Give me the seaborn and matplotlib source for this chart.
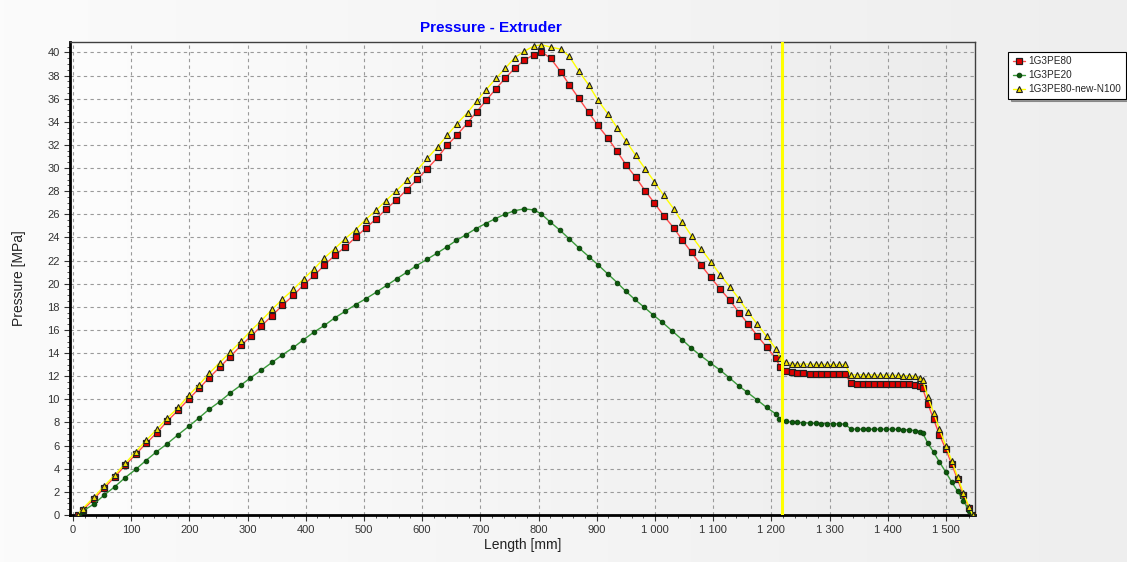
import numpy as np
import pandas as pd
import matplotlib
matplotlib.use("Agg")
import matplotlib.pyplot as plt
import seaborn as sns
from matplotlib.ticker import MultipleLocator, FuncFormatter
from matplotlib.colors import LinearSegmentedColormap

# ---------------- data ----------------
x_red = [8, 17, 36, 53, 72, 90, 108, 126, 144, 162, 181, 199, 217, 234, 252, 270, 289, 306, 324, 342,
         360, 379, 397, 415, 432, 450, 468, 486, 503, 521, 538, 556, 574, 592, 609, 627, 643, 660, 678, 694,
         710, 727, 743, 759, 775, 792, 805, 821, 838, 853, 869, 886, 902, 919, 935, 950, 967, 983, 999, 1015,
         1032, 1047, 1063, 1079, 1096, 1112, 1129, 1145, 1160, 1176, 1192, 1208, 1215, 1225, 1235, 1245, 1255, 1266, 1276, 1286,
         1296, 1306, 1316, 1326, 1337, 1347, 1357, 1367, 1377, 1387, 1397, 1407, 1417, 1427, 1437, 1447, 1455, 1460, 1469, 1479,
         1489, 1500, 1510, 1520, 1530, 1540, 1546]
y_red = [0.0, 0.43, 1.38, 2.3, 3.3, 4.3, 5.25, 6.2, 7.1, 8.1, 9.07, 10.02, 10.95, 11.86, 12.76, 13.68, 14.66, 15.46, 16.36, 17.22,
         18.14, 19.0, 19.93, 20.73, 21.6, 22.46, 23.18, 24.02, 24.8, 25.6, 26.44, 27.24, 28.14, 29.03, 29.95, 30.93, 31.97, 32.86, 33.9, 34.88,
         35.85, 36.86, 37.78, 38.62, 39.31, 39.8, 40.06, 39.48, 38.33, 37.2, 36.05, 34.82, 33.68, 32.6, 31.45, 30.3, 29.2, 28.05, 26.98, 25.89,
         24.85, 23.78, 22.7, 21.62, 20.54, 19.55, 18.55, 17.48, 16.53, 15.5, 14.52, 13.54, 12.8, 12.44, 12.33, 12.3, 12.27, 12.22, 12.2, 12.2,
         12.2, 12.2, 12.2, 12.2, 11.38, 11.34, 11.34, 11.34, 11.34, 11.34, 11.34, 11.33, 11.33, 11.31, 11.29, 11.26, 11.17, 10.95, 9.62, 8.27,
         6.92, 5.68, 4.4, 3.08, 1.73, 0.58, 0.0]

x_yel = x_red
y_yel = [0.0, 0.56, 1.53, 2.47, 3.46, 4.47, 5.47, 6.46, 7.4, 8.37, 9.3, 10.34, 11.28, 12.24, 13.16, 14.08, 15.03, 15.95, 16.82, 17.77,
         18.66, 19.52, 20.45, 21.31, 22.23, 23.04, 23.9, 24.68, 25.55, 26.35, 27.19, 28.05, 28.94, 29.86, 30.84, 31.85, 32.83, 33.84, 34.79, 35.8,
         36.78, 37.75, 38.64, 39.54, 40.09, 40.55, 40.66, 40.46, 40.28, 39.65, 38.41, 37.2, 35.88, 34.7, 33.49, 32.37, 31.1, 29.95, 28.83, 27.65,
         26.5, 25.31, 24.13, 23.04, 21.9, 20.78, 19.72, 18.65, 17.54, 16.5, 15.44, 14.35, 13.6, 13.22, 13.1, 13.05, 13.05, 13.05, 13.03, 13.03,
         13.03, 13.02, 13.02, 13.02, 12.12, 12.12, 12.12, 12.12, 12.1, 12.1, 12.1, 12.08, 12.08, 12.05, 12.05, 11.98, 11.86, 11.66, 10.2, 8.84,
         7.4, 5.96, 4.69, 3.3, 1.93, 0.66, 0.0]

x_grn = [10, 18, 36, 54, 72, 89, 108, 125, 143, 162, 180, 199, 217, 234, 252, 270, 288, 305, 324, 342,
         360, 379, 396, 414, 432, 450, 468, 486, 503, 522, 539, 557, 574, 590, 608, 626, 643, 659, 676, 692,
         709, 726, 742, 758, 775, 792, 804, 820, 837, 853, 870, 887, 903, 919, 935, 950, 965, 982, 997, 1013,
         1030, 1047, 1062, 1078, 1095, 1112, 1128, 1144, 1159, 1176, 1192, 1208, 1214, 1225, 1235, 1245, 1255, 1266, 1276, 1286,
         1296, 1306, 1316, 1326, 1337, 1347, 1357, 1367, 1377, 1387, 1397, 1407, 1417, 1427, 1437, 1447, 1455, 1460, 1469, 1479,
         1489, 1500, 1510, 1520, 1530, 1540, 1546]
y_grn = [0.0, 0.37, 0.95, 1.73, 2.45, 3.2, 3.95, 4.69, 5.44, 6.16, 6.91, 7.66, 8.41, 9.14, 9.79, 10.54, 11.2, 11.86, 12.53, 13.19,
         13.85, 14.49, 15.15, 15.81, 16.39, 17.05, 17.62, 18.2, 18.69, 19.29, 19.85, 20.45, 21.0, 21.55, 22.1, 22.65, 23.2, 23.75, 24.25, 24.75,
         25.2, 25.63, 26.0, 26.3, 26.47, 26.38, 26.06, 25.34, 24.62, 23.87, 23.07, 22.32, 21.6, 20.85, 20.1, 19.35, 18.66, 17.95, 17.3, 16.65,
         15.9, 15.15, 14.46, 13.8, 13.16, 12.53, 11.86, 11.17, 10.6, 9.94, 9.3, 8.73, 8.33, 8.1, 8.03, 8.0, 7.98, 7.95, 7.92, 7.9,
         7.9, 7.88, 7.87, 7.86, 7.43, 7.42, 7.42, 7.42, 7.42, 7.42, 7.42, 7.42, 7.4, 7.38, 7.35, 7.3, 7.22, 7.1, 6.2, 5.42,
         4.58, 3.69, 2.85, 2.07, 1.24, 0.35, 0.0]

series_names = ["1G3PE80", "1G3PE20", "1G3PE80-new-N100"]
cursor_x = 1218

title = "Pressure - Extruder"
xlabel = "Length [mm]"
ylabel = "Pressure [MPa]"

# ---------------- figure ----------------
sns.set_theme(style="white")
plt.rcParams["font.family"] = ["Liberation Sans", "DejaVu Sans"]

fig = plt.figure(figsize=(11.27, 5.62), dpi=100)

# background gradient for the whole figure
bg = fig.add_axes([0, 0, 1, 1], zorder=-10)
bg.imshow(np.linspace(0, 1, 256)[None, :], aspect="auto", extent=[0, 1, 0, 1],
          cmap=LinearSegmentedColormap.from_list("bgf", ["#fbfbfb", "#eeeeee"]))
bg.set_axis_off()

ax = fig.add_axes([70 / 1127, 1 - 515 / 562, (975 - 70) / 1127, (515 - 42) / 562])
ax.set_facecolor("none")
ax.imshow(np.linspace(0, 1, 256)[None, :], aspect="auto", extent=[0, 1, 0, 1],
          transform=ax.transAxes, zorder=0,
          cmap=LinearSegmentedColormap.from_list("bga", ["#fdfdfd", "#ececec"]))

df_red = pd.DataFrame({"x": x_red, "y": y_red})
df_grn = pd.DataFrame({"x": x_grn, "y": y_grn})
df_yel = pd.DataFrame({"x": x_yel, "y": y_yel})

sns.lineplot(data=df_red, x="x", y="y", ax=ax, sort=False, estimator=None,
             color="#ff4a4a", linewidth=1.0, marker="s", markersize=5,
             markerfacecolor="#e00000", markeredgecolor="#202020", markeredgewidth=0.9,
             label=series_names[0], zorder=3)
sns.lineplot(data=df_grn, x="x", y="y", ax=ax, sort=False, estimator=None,
             color="#3a9a3a", linewidth=1.0, marker="o", markersize=3.4,
             markerfacecolor="#0a5a0a", markeredgecolor="#0a3a0a", markeredgewidth=0.6,
             label=series_names[1], zorder=3)
sns.lineplot(data=df_yel, x="x", y="y", ax=ax, sort=False, estimator=None,
             color="#ffff00", linewidth=1.0, marker="^", markersize=5,
             markerfacecolor="#f0e000", markeredgecolor="#202020", markeredgewidth=0.8,
             label=series_names[2], zorder=4)

ax.axvline(cursor_x, color="#ffff00", linewidth=2.2, zorder=5)

ax.set_xlim(-5, 1550)
ax.set_ylim(0, 40.9)
ax.xaxis.set_major_locator(MultipleLocator(100))
ax.xaxis.set_minor_locator(MultipleLocator(20))
ax.yaxis.set_major_locator(MultipleLocator(2))
ax.yaxis.set_minor_locator(MultipleLocator(0.5))

def thousands(v, pos):
    v = int(round(v))
    if v >= 1000:
        return f"{v // 1000} {v % 1000:03d}"
    return str(v)

ax.xaxis.set_major_formatter(FuncFormatter(thousands))

ax.grid(True, which="major", color="#9a9a9a", linestyle=(0, (3, 3)), linewidth=0.8, zorder=1)
ax.set_axisbelow(True)

ax.tick_params(axis="both", which="major", direction="out", length=4, width=0.8,
               labelsize=8, colors="#333333", bottom=True, left=True)
ax.tick_params(axis="both", which="minor", direction="out", length=2, width=0.6,
               colors="#333333", bottom=True, left=True)
for s in ["left", "bottom"]:
    ax.spines[s].set_linewidth(2.0)
    ax.spines[s].set_color("#000000")
for s in ["top", "right"]:
    ax.spines[s].set_linewidth(1.0)
    ax.spines[s].set_color("#404040")

ax.set_title(title, color="#0000ff", fontsize=11, fontweight="bold", pad=7,
             x=(491 - 70) / 905)
ax.set_xlabel(xlabel, fontsize=10, color="#222222", labelpad=2)
ax.set_ylabel(ylabel, fontsize=10, color="#222222", labelpad=15)

leg = ax.legend(loc="upper left", bbox_to_anchor=(1008 / 1127, 1 - 52 / 562),
                bbox_transform=fig.transFigure, fontsize=7.2, frameon=True,
                fancybox=False, shadow=True, framealpha=1, edgecolor="#000000",
                borderpad=0.45, labelspacing=0.38, handlelength=1.25, handletextpad=0.35,
                borderaxespad=0)
leg.get_frame().set_linewidth(0.8)

fig.savefig("out.png", dpi=100)
